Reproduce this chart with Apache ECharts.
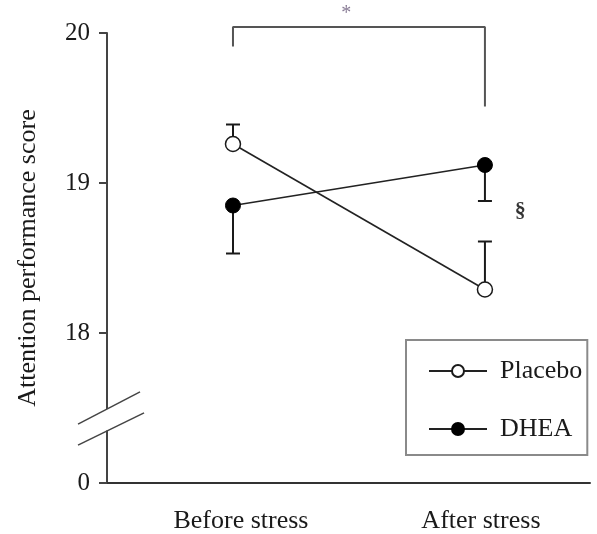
<!DOCTYPE html>
<html>
<head>
<meta charset="utf-8">
<script src="https://cdn.jsdelivr.net/npm/echarts@6/dist/echarts.min.js"></script>
<style>
html,body{margin:0;padding:0;background:#fff;}
#chart{width:597px;height:534px;}
</style>
</head>
<body>
<div id="chart"></div>
<script>
// ---- data ----
const categories = ['Before stress', 'After stress'];
const categoryX = [1, 2];
const yTickValues = [17, 18, 19, 20];
const yTickLabels = ['0', '18', '19', '20'];
const placeboMean = [19.26, 18.29];
const placeboErrEnd = [19.39, 18.61];   // upper SEM
const dheaMean = [18.85, 19.12];
const dheaErrEnd = [18.53, 18.88];      // lower SEM
const bracketY = [19.91, 20.04, 20.04, 19.51];
const sigStar = '*';
const sigStarPos = [1.45, 20.13];
const sigSection = '\u00a7';
const sigSectionPos = [2.14, 18.81];
// axis break (decoration): [x1, y1, x2, y2]
const breakGap = [0.5, 17.493, 0.5, 17.35];
const breakLines = [[0.385, 17.393, 0.631, 17.607], [0.385, 17.253, 0.647, 17.467]];

const FONT = 'Liberation Serif';
const INK = '#1a1a1a';

const chart = echarts.init(document.getElementById('chart'));

function pts(xs, ys) { return xs.map((x, i) => [x, ys[i]]); }
function errData(xs, m, e) { return xs.map((x, i) => [x, m[i], e[i]]); }

function errRender(params, api) {
  const x = api.value(0);
  const p0 = api.coord([x, api.value(1)]);
  const p1 = api.coord([x, api.value(2)]);
  const hw = 7;
  return {
    type: 'group',
    children: [
      { type: 'line', shape: { x1: p0[0], y1: p0[1], x2: p1[0], y2: p1[1] }, style: { stroke: INK, lineWidth: 2 } },
      { type: 'line', shape: { x1: p1[0] - hw, y1: p1[1], x2: p1[0] + hw, y2: p1[1] }, style: { stroke: INK, lineWidth: 2 } }
    ]
  };
}

function segRender(color, width) {
  return function (params, api) {
    const a = api.coord([api.value(0), api.value(1)]);
    const b = api.coord([api.value(2), api.value(3)]);
    return { type: 'line', shape: { x1: a[0], y1: a[1], x2: b[0], y2: b[1] }, style: { stroke: color, lineWidth: width } };
  };
}

const option = {
  animation: false,
  backgroundColor: '#fff',
  grid: { left: 107, right: 7, top: 33, bottom: 51, outerBoundsMode: 'none', containLabel: false },
  xAxis: {
    type: 'value', min: 0.5, max: 2.417,
    splitLine: { show: false },
    axisTick: { show: false },
    axisLine: { lineStyle: { color: '#333', width: 2 } },
    axisLabel: {
      customValues: categoryX,
      formatter: v => {
        const i = Math.round(v) - 1;
        return '{' + (i === 0 ? 'a' : 'b') + '|' + (categories[i] || '') + '}';
      },
      rich: {
        a: { fontFamily: FONT, fontSize: 26, color: INK, padding: [0, 0, 0, 16] },
        b: { fontFamily: FONT, fontSize: 26, color: INK, padding: [0, 8, 0, 0] }
      },
      fontFamily: FONT, fontSize: 26, color: INK, margin: 25
    }
  },
  yAxis: {
    type: 'value', min: 17, max: 20, interval: 1,
    name: 'Attention performance score',
    nameLocation: 'middle', nameGap: 66,
    nameTextStyle: { fontFamily: FONT, fontSize: 26, color: INK },
    splitLine: { show: false },
    axisLine: { show: true, lineStyle: { color: '#444', width: 2 } },
    axisTick: { show: true, length: 8, lineStyle: { color: '#444', width: 2 } },
    axisLabel: {
      formatter: v => yTickLabels[yTickValues.indexOf(v)],
      fontFamily: FONT, fontSize: 25, color: INK, margin: 17
    }
  },
  legend: {
    orient: 'vertical',
    left: 406, top: 340,
    padding: [18, 5, 13, 22],
    itemWidth: 58, itemHeight: 15, itemGap: 32,
    borderColor: '#8a8a8a', borderWidth: 2,
    backgroundColor: '#fff',
    textStyle: { fontFamily: FONT, fontSize: 26, color: INK, padding: [0, 0, 0, 8] },
    data: ['Placebo', 'DHEA']
  },
  series: [
    {
      name: 'PlaceboErr', type: 'custom', z: 1,
      renderItem: errRender, data: errData(categoryX, placeboMean, placeboErrEnd), silent: true
    },
    {
      name: 'DHEAErr', type: 'custom', z: 1,
      renderItem: errRender, data: errData(categoryX, dheaMean, dheaErrEnd), silent: true
    },
    {
      name: 'Placebo', type: 'line', z: 3,
      data: pts(categoryX, placeboMean),
      symbol: 'circle', symbolSize: 15,
      itemStyle: { color: '#fff', borderColor: INK, borderWidth: 1.5 },
      lineStyle: { color: '#222', width: 1.6 }
    },
    {
      name: 'DHEA', type: 'line', z: 3,
      data: pts(categoryX, dheaMean),
      symbol: 'circle', symbolSize: 15,
      itemStyle: { color: '#000', borderColor: '#000', borderWidth: 1 },
      lineStyle: { color: '#222', width: 1.6 }
    },
    {
      name: 'bracket', type: 'line', clip: false, z: 2, silent: true,
      data: pts([1, 1, 2, 2], bracketY),
      symbol: 'none', lineStyle: { color: '#555', width: 2 }
    },
    {
      name: 'sig', type: 'scatter', clip: false, silent: true, z: 4,
      symbolSize: 1, itemStyle: { color: 'rgba(0,0,0,0)' },
      data: [
        { value: sigStarPos, label: { show: true, formatter: sigStar, position: 'inside', fontSize: 20, color: '#6a5a7a', fontFamily: FONT } },
        { value: sigSectionPos, label: { show: true, formatter: sigSection, position: 'inside', fontSize: 22, fontWeight: 'bold', color: '#000', fontFamily: FONT } }
      ]
    },
    {
      name: 'breakGap', type: 'custom', clip: false, silent: true, z: 5,
      renderItem: segRender('#fff', 5), data: [breakGap]
    },
    {
      name: 'breakLines', type: 'custom', clip: false, silent: true, z: 6,
      renderItem: segRender('#444', 1.5), data: breakLines
    }
  ]
};
chart.setOption(option);
</script>
</body>
</html>
